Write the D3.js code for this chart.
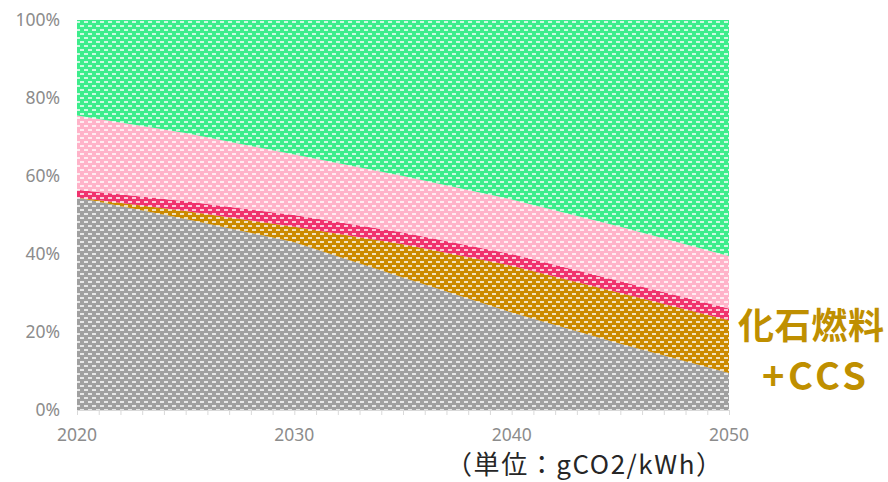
<!DOCTYPE html>
<html>
<head>
<meta charset="utf-8">
<script src="https://cdn.jsdelivr.net/npm/d3@7"></script>
<style>
  body { margin: 0; background: #fff; }
  svg { display: block; }
</style>
</head>
<body>
<div id="chart"></div>
<script>
// years and shares (%)
var years = [2020, 2025, 2030, 2035, 2040, 2045, 2050];
var fossil = [54.5, 49, 43, 34, 25, 17, 9.5];
var fossilCcs = [0, 2, 4, 8.5, 12, 13, 13.5];
var crimson = [2, 2.5, 3, 3, 3, 3, 3];
var pink = [19, 17.5, 15.5, 14.5, 14, 14, 13.5];
var green = [24.5, 29, 34.5, 40, 46, 53, 60.5];

var seriesKeys = ["fossil", "ccs", "crimson", "pink", "green"];
var seriesColors = ["#a0a0a0", "#cc8a00", "#f0336e", "#ffb3c9", "#3ded8c"];
var yTicks = [0, 20, 40, 60, 80, 100];
var xTicks = [2020, 2030, 2040, 2050];

var rows = years.map(function (y, i) {
  return { year: y, fossil: fossil[i], ccs: fossilCcs[i], crimson: crimson[i], pink: pink[i], green: green[i] };
});

var width = 888, height = 482;
var svg = d3.select("#chart").append("svg")
  .attr("width", width)
  .attr("height", height);

var x = d3.scaleLinear().domain([2020, 2050]).range([77, 729]);
var y = d3.scaleLinear().domain([0, 100]).range([410, 20]);

// dashed fill patterns
var defs = svg.append("defs");
seriesKeys.forEach(function (k, i) {
  var p = defs.append("pattern")
    .attr("id", "pat-" + k)
    .attr("patternUnits", "userSpaceOnUse")
    .attr("width", 8)
    .attr("height", 8);
  p.append("rect").attr("width", 8).attr("height", 8).attr("fill", seriesColors[i]);
  p.append("rect").attr("x", 0).attr("y", 1).attr("width", 4).attr("height", 2)
    .attr("fill", "#fff").attr("opacity", 0.75);
  p.append("rect").attr("x", 4).attr("y", 5).attr("width", 4).attr("height", 2)
    .attr("fill", "#fff").attr("opacity", 0.75);
});

var stack = d3.stack().keys(seriesKeys);
var layers = stack(rows);

var area = d3.area()
  .x(function (d) { return x(d.data.year); })
  .y0(function (d) { return y(d[0]); })
  .y1(function (d) { return y(d[1]); });

svg.append("g").selectAll("path")
  .data(layers)
  .enter().append("path")
  .attr("d", area)
  .attr("fill", function (d) { return "url(#pat-" + d.key + ")"; });

// y axis labels
svg.append("g").selectAll("text")
  .data(yTicks)
  .enter().append("text")
  .attr("x", 60)
  .attr("y", function (d) { return y(d); })
  .attr("dy", "0.35em")
  .attr("text-anchor", "end")
  .attr("font-family", "Noto Sans, sans-serif")
  .attr("font-size", 17.5)
  .attr("fill", "#8c8c8c")
  .text(function (d) { return d + "%"; });

// x axis with yearly ticks
var xAxis = d3.axisBottom(x)
  .tickValues(d3.range(2020, 2051))
  .tickSize(5)
  .tickFormat("");
var gx = svg.append("g")
  .attr("transform", "translate(0,410)")
  .call(xAxis);
gx.select(".domain").attr("stroke", "#d9d9d9");
gx.selectAll(".tick line").attr("stroke", "#d9d9d9");

svg.append("g").selectAll("text")
  .data(xTicks)
  .enter().append("text")
  .attr("x", function (d) { return x(d); })
  .attr("y", 441)
  .attr("text-anchor", "middle")
  .attr("font-family", "Noto Sans, sans-serif")
  .attr("font-size", 17.5)
  .attr("fill", "#8c8c8c")
  .text(function (d) { return d; });

// unit caption
svg.append("text")
  .attr("x", 446)
  .attr("y", 474)
  .attr("font-family", "Noto Sans CJK JP, sans-serif")
  .attr("font-size", 26)
  .attr("textLength", 276)
  .attr("fill", "#262626")
  .text("（単位：gCO2/kWh）");

// CCS label, two lines
svg.append("text")
  .attr("x", 811)
  .attr("y", 339)
  .attr("text-anchor", "middle")
  .attr("font-family", "Noto Sans CJK JP, sans-serif")
  .attr("font-weight", "bold")
  .attr("font-size", 36)
  .attr("textLength", 146)
  .attr("fill", "#bf8f00")
  .text("化石燃料");
svg.append("text")
  .attr("x", 814)
  .attr("y", 390)
  .attr("text-anchor", "middle")
  .attr("font-family", "Noto Sans CJK JP, sans-serif")
  .attr("font-weight", "bold")
  .attr("font-size", 38)
  .attr("textLength", 104)
  .attr("fill", "#bf8f00")
  .text("+CCS");
</script>
</body>
</html>
